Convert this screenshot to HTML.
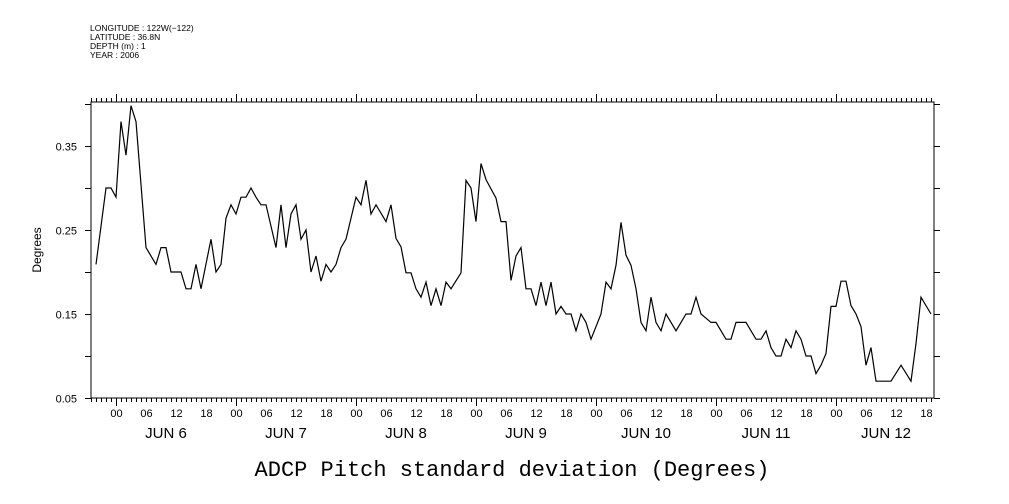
<!DOCTYPE html>
<html><head><meta charset="utf-8"><style>
html,body{margin:0;padding:0;background:#fff}
svg{display:block;font-family:"Liberation Sans",sans-serif}
</style></head><body>
<svg id="chart" width="1009" height="504" viewBox="0 0 1009 504" xmlns="http://www.w3.org/2000/svg">
<g font-size="8.5" fill="#000">
<text x="90" y="31">LONGITUDE : 122W(−122)</text>
<text x="90" y="40">LATITUDE : 36.8N</text>
<text x="90" y="49">DEPTH (m) : 1</text>
<text x="90" y="58">YEAR : 2006</text>
</g>
<rect x="91" y="102" width="843" height="296" fill="none" stroke="#000" stroke-width="1"/>
<g id="ticks" stroke="#000" stroke-width="1"></g>
<g id="labels" fill="#000"></g>
<text x="0" y="0" font-size="12" transform="translate(41,250) rotate(-90)" text-anchor="middle">Degrees</text>
<text x="512" y="476" font-size="22" font-family="Liberation Mono, monospace" text-anchor="middle">ADCP Pitch standard deviation (Degrees)</text>
<path id="line" fill="none" stroke="#000" stroke-width="1.2"/>
</svg>
<script>
// hours relative to JUN 6 00:00
const hours = [-4,-2,-1,0,1,2,3,4,6,8,9,10,11,13,14,15,16,17,19,20,21,22,23,24,25,26,27,28,29,30,32,33,34,35,36,37,38,39,40,41,42,43,44,45,46,48,49,50,51,52,54,55,56,57,58,59,60,61,62,63,64,65,66,67,69,70,71,72,73,74,76,77,78,79,80,81,82,83,84,85,86,87,88,89,90,91,92,93,94,95,97,98,99,100,101,102,103,104,105,106,107,108,109,110,111,112,113,114,115,116,117,118,119,120,121,122,123,124,125,126,127,128,129,130,131,132,133,134,135,136,137,138,139,140,141,142,143,144,145,146,147,148,149,150,151,152,155,157,159,160,161,163];
const values = [0.209,0.30,0.30,0.289,0.379,0.339,0.398,0.379,0.229,0.209,0.229,0.229,0.20,0.20,0.18,0.18,0.209,0.18,0.239,0.20,0.209,0.264,0.28,0.269,0.289,0.289,0.30,0.289,0.28,0.28,0.229,0.28,0.229,0.269,0.28,0.239,0.25,0.20,0.219,0.189,0.209,0.20,0.209,0.229,0.239,0.289,0.28,0.309,0.269,0.28,0.26,0.28,0.24,0.23,0.199,0.199,0.18,0.17,0.188,0.16,0.18,0.16,0.188,0.18,0.199,0.309,0.30,0.26,0.329,0.31,0.288,0.26,0.26,0.19,0.219,0.229,0.18,0.18,0.16,0.188,0.16,0.188,0.15,0.159,0.15,0.15,0.13,0.15,0.14,0.12,0.15,0.188,0.18,0.208,0.259,0.22,0.208,0.18,0.14,0.13,0.17,0.14,0.13,0.15,0.14,0.13,0.14,0.15,0.15,0.17,0.15,0.145,0.14,0.14,0.13,0.12,0.12,0.14,0.14,0.14,0.13,0.12,0.12,0.13,0.11,0.10,0.10,0.12,0.11,0.13,0.12,0.10,0.10,0.079,0.089,0.103,0.159,0.159,0.189,0.189,0.16,0.15,0.135,0.089,0.11,0.07,0.07,0.089,0.07,0.115,0.17,0.15];
const yTicks = [0.05,0.10,0.15,0.20,0.25,0.30,0.35,0.40];
const yTickLabels = ["0.05","","0.15","","0.25","","0.35",""];
const hourLabels = ["00","06","12","18"];
const dayLabels = ["JUN  6","JUN  7","JUN  8","JUN  9","JUN 10","JUN 11","JUN 12"];

const X0=91,X1=934,Y0=102,Y1=398;
const xs = h => 116 + 5*h;
const ys = v => 398 - (v-0.05)*840;
const NS="http://www.w3.org/2000/svg";
const tg=document.getElementById('ticks'), lg=document.getElementById('labels');
function ln(x1,y1,x2,y2,name){const l=document.createElementNS(NS,'line');l.setAttribute('x1',x1);l.setAttribute('y1',y1);l.setAttribute('x2',x2);l.setAttribute('y2',y2);


tg.appendChild(l);}
function tx(x,y,s,size,anchor,name){const t=document.createElementNS(NS,'text');t.setAttribute('x',x);t.setAttribute('y',y);t.setAttribute('font-size',size);t.setAttribute('text-anchor',anchor);t.textContent=s;


lg.appendChild(t);}
yTicks.forEach((v,i)=>{const y=ys(v)+0.5;ln(X0-6,y,X0,y,'y-tick');ln(X1,y,X1+6,y,'y-tick-right');
 if(yTickLabels[i]) tx(X0-14,y+4,yTickLabels[i],11,'end','y-tick-label');});
for(let h=-5;h<=164;h++){const x=xs(h)+0.5;if(x<X0||x>X1)continue;
 const day=((h%24)+24)%24===0;
 ln(x,Y1,x,Y1+(day?8:4),'x-tick');ln(x,Y0,x,Y0-(day?8:4),'x-tick-top');
 if(((h%6)+6)%6===0){const idx=(((h%24)+24)%24)/6;tx(x,417,hourLabels[idx],11,'middle','x-hour-label');}}
dayLabels.forEach((d,i)=>tx(xs(24*i+12)-10,438,d,15,'middle','x-day-label'));
let d='';hours.forEach((h,i)=>{d+=(i?'L':'M')+xs(h).toFixed(1)+' '+ys(values[i]).toFixed(1);});
const p=document.getElementById('line');p.setAttribute('d',d);
</script>
</body></html>
